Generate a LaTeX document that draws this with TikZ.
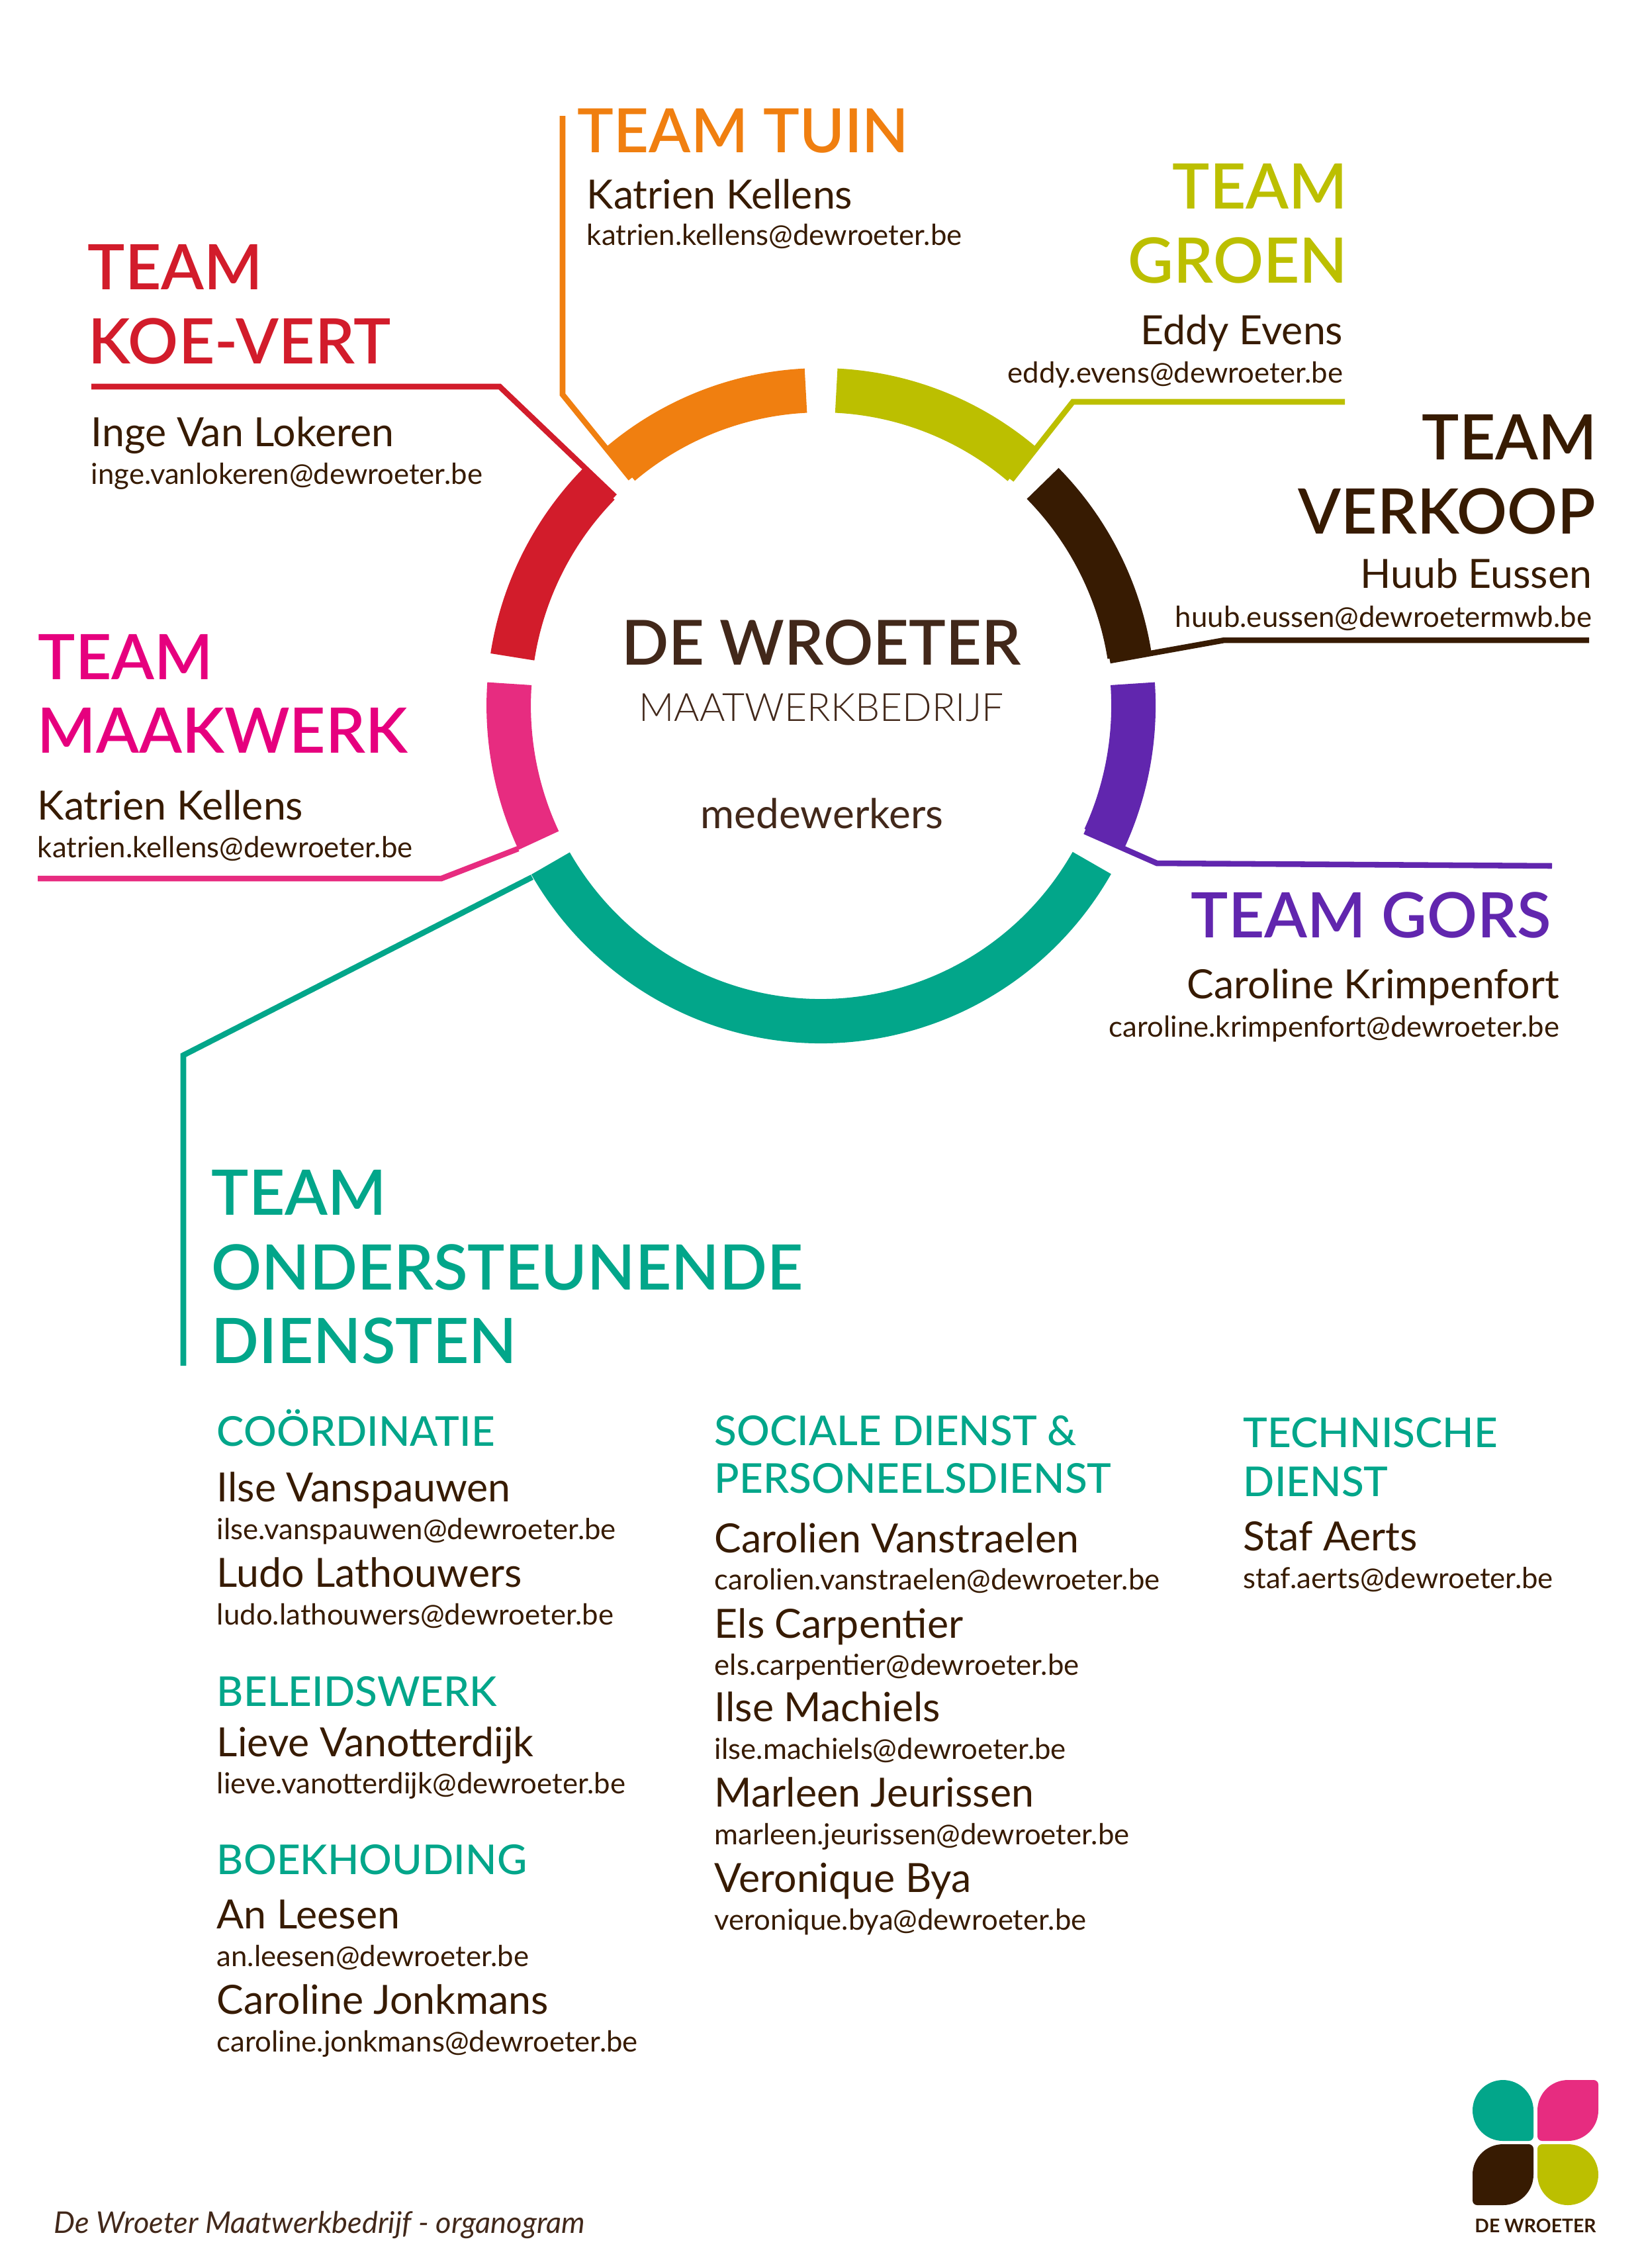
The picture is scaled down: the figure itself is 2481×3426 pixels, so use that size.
\documentclass[tikz,border=0pt]{standalone}
\usepackage{fontspec}
\setmainfont{Lato}
\newfontfamily\medfont{Lato Medium}
\newfontfamily\semifont{Lato Semibold}
\newfontfamily\lightfont{Lato Light}
\usetikzlibrary{positioning,calc}
\definecolor{tuinc}{HTML}{F07F10}
\definecolor{groenc}{HTML}{BCBF00}
\definecolor{brownc}{HTML}{371B02}
\definecolor{gorsc}{HTML}{6126AE}
\definecolor{tealc}{HTML}{02A68A}
\definecolor{pinkc}{HTML}{E72C80}
\definecolor{maakc}{HTML}{E6007E}
\definecolor{redc}{HTML}{D21C2B}
\definecolor{midc}{HTML}{42281A}
\tikzset{
	teamhead/.style={inner sep=0pt, font=\semifont\fontsize{22.7pt}{23pt}\selectfont},
	person/.style={inner sep=0pt, text=brownc, font=\fontsize{14.6pt}{15pt}\selectfont},
	mail/.style={inner sep=0pt, text=brownc, font=\fontsize{10.5pt}{11pt}\selectfont},
	subhead/.style={inner sep=0pt, text=tealc, font=\medfont\fontsize{14.9pt}{15pt}\selectfont},
	ringpart/.style={line width=16.08pt},
	teamline/.style={line width=2.05pt, line join=miter}
}
\newcommand{\petal}[7]{\fill[#3] (#1+#4,#2) -- (#1+92-#5,#2) arc[start angle=-90, end angle=0, radius=#5]
	-- (#1+92,#2+92-#6) arc[start angle=0, end angle=90, radius=#6]
	-- (#1+#7,#2+92) arc[start angle=90, end angle=180, radius=#7]
	-- (#1,#2+#4) arc[start angle=180, end angle=270, radius=#4] -- cycle;}

\begin{document}
\begin{tikzpicture}[x=0.24pt, y=-0.24pt]
	\useasboundingbox (0,0) rectangle (2481,3426);
	\coordinate (ctr) at (1240.6,1066);

	% ring
	\foreach \from/\to/\col in {-92.8/-129.9/tuinc, -87.2/-50/groenc, -44.8/-9.2/brownc, -4/24.8/gorsc,
		29.9/150/tealc, 154.7/184/pinkc, 188.9/224.6/redc}{
		\draw[ringpart, \col] ($(ctr)+(\from:472 and 476.5)$) arc[start angle=\from, end angle=\to, x radius=472, y radius=476.5];
	}

	% centre
	\node[inner sep=0pt, anchor=base, text=midc, font=\semifont\fontsize{22.5pt}{23pt}\selectfont] (wroeter) at (1241,1004) {DE WROETER};
	\node[inner sep=0pt, anchor=base, text=midc, font=\lightfont\fontsize{14.1pt}{15pt}\selectfont] (maatwerk) at (1241,1089) {MAATWERKBEDRIJF};
	\node[inner sep=0pt, anchor=base, text=midc, font=\fontsize{14.9pt}{15pt}\selectfont] (medew) at (1242,1251) {medewerkers};

	% team tuin
	\node[teamhead, tuinc, anchor=base west, font=\semifont\fontsize{22.1pt}{23pt}\selectfont] (tuin) at (872,230) {TEAM TUIN};
	\node[person, anchor=base west] (tuinp) at (886,315) {Katrien Kellens};
	\node[mail, anchor=base west] (tuinm) at (886,370) {katrien.kellens@dewroeter.be};
	\coordinate (tuintop) at (850,175);
	\coordinate (tuinbend) at (850,596);
	\coordinate (tuinring) at (953,723);
	\draw[teamline, tuinc] (tuintop) -- (tuinbend) -- (tuinring);

	% team groen
	\node[teamhead, groenc, anchor=base east] (groen1) at (2037,315) {TEAM};
	\node[teamhead, groenc, anchor=base east] (groen2) at (2037,427) {GROEN};
	\node[person, anchor=base east] (groenp) at (2030,520) {Eddy Evens};
	\node[mail, anchor=base east] (groenm) at (2030,578) {eddy.evens@dewroeter.be};
	\coordinate (groenend) at (2032,607);
	\coordinate (groenbend) at (1621,607);
	\coordinate (groenring) at (1528,725);
	\draw[teamline, groenc] (groenend) -- (groenbend) -- (groenring);

	% team verkoop
	\node[teamhead, brownc, anchor=base east] (verkoop1) at (2414,694) {TEAM};
	\node[teamhead, brownc, anchor=base east] (verkoop2) at (2412,806) {VERKOOP};
	\node[person, anchor=base east] (verkoopp) at (2406,888) {Huub Eussen};
	\node[mail, anchor=base east] (verkoopm) at (2406,947) {huub.eussen@dewroetermwb.be};
	\coordinate (verkoopend) at (2401,967);
	\coordinate (verkoopbend) at (1850,967);
	\coordinate (verkoopring) at (1677,998);
	\draw[teamline, brownc] (verkoopend) -- (verkoopbend) -- (verkoopring);

	% team gors
	\node[teamhead, gorsc, anchor=base east] (gors) at (2345,1416) {TEAM GORS};
	\node[person, anchor=base east] (gorsp) at (2357,1508) {Caroline Krimpenfort};
	\node[mail, anchor=base east] (gorsm) at (2357,1566) {caroline.krimpenfort@dewroeter.be};
	\coordinate (gorsend) at (2345,1308);
	\coordinate (gorsbend) at (1748,1304);
	\coordinate (gorsring) at (1639,1256);
	\draw[teamline, gorsc] (gorsend) -- (gorsbend) -- (gorsring);

	% team koe-vert
	\node[teamhead, redc, anchor=base west] (koe1) at (132,437) {TEAM};
	\node[teamhead, redc, anchor=base west] (koe2) at (133,549) {KOE-VERT};
	\node[person, anchor=base west] (koep) at (137,674) {Inge Van Lokeren};
	\node[mail, anchor=base west] (koem) at (137,731) {inge.vanlokeren@dewroeter.be};
	\coordinate (koeend) at (138,584);
	\coordinate (koebend) at (755,584);
	\coordinate (koering) at (929,750);
	\draw[teamline, redc] (koeend) -- (koebend) -- (koering);

	% team maakwerk
	\node[teamhead, maakc, anchor=base west] (maak1) at (57,1026) {TEAM};
	\node[teamhead, maakc, anchor=base west] (maak2) at (56,1137) {MAAKWERK};
	\node[person, anchor=base west] (maakp) at (56,1238) {Katrien Kellens};
	\node[mail, anchor=base west] (maakm) at (56,1295) {katrien.kellens@dewroeter.be};
	\coordinate (maakend) at (57,1327);
	\coordinate (maakbend) at (667,1327);
	\coordinate (maakring) at (783,1282);
	\draw[teamline, pinkc] (maakend) -- (maakbend) -- (maakring);

	% team ondersteunende diensten
	\node[teamhead, tealc, anchor=base west] (ond1) at (319,1835) {TEAM};
	\node[teamhead, tealc, anchor=base west] (ond2) at (319,1948) {ONDERSTEUNENDE};
	\node[teamhead, tealc, anchor=base west] (ond3) at (319,2059) {DIENSTEN};
	\coordinate (ondend) at (277,2063);
	\coordinate (ondbend) at (277,1594);
	\coordinate (ondring) at (804,1325);
	\draw[teamline, tealc] (ondend) -- (ondbend) -- (ondring);

	% first column
	\node[subhead, anchor=base west] (coord) at (327,2184) {COÖRDINATIE};
	\node[person, anchor=base west] (coord1) at (327,2268) {Ilse Vanspauwen};
	\node[mail, anchor=base west] (coord1m) at (327,2325) {ilse.vanspauwen@dewroeter.be};
	\node[person, anchor=base west] (coord2) at (327,2397) {Ludo Lathouwers};
	\node[mail, anchor=base west] (coord2m) at (327,2454) {ludo.lathouwers@dewroeter.be};
	\node[subhead, anchor=base west] (beleid) at (327,2577) {BELEIDSWERK};
	\node[person, anchor=base west] (beleid1) at (327,2653) {Lieve Vanotterdijk};
	\node[mail, anchor=base west] (beleid1m) at (327,2709) {lieve.vanotterdijk@dewroeter.be};
	\node[subhead, anchor=base west] (boek) at (327,2831) {BOEKHOUDING};
	\node[person, anchor=base west] (boek1) at (327,2913) {An Leesen};
	\node[mail, anchor=base west] (boek1m) at (327,2970) {an.leesen@dewroeter.be};
	\node[person, anchor=base west] (boek2) at (327,3042) {Caroline Jonkmans};
	\node[mail, anchor=base west] (boek2m) at (327,3099) {caroline.jonkmans@dewroeter.be};

	% second column
	\node[subhead, anchor=base west] (soc1) at (1079,2183) {SOCIALE DIENST \&};
	\node[subhead, anchor=base west] (soc2) at (1079,2255) {PERSONEELSDIENST};
	\node[person, anchor=base west] (soc3) at (1079,2345) {Carolien Vanstraelen};
	\node[mail, anchor=base west] (soc3m) at (1079,2401) {carolien.vanstraelen@dewroeter.be};
	\node[person, anchor=base west] (soc4) at (1079,2474) {Els Carpentier};
	\node[mail, anchor=base west] (soc4m) at (1079,2530) {els.carpentier@dewroeter.be};
	\node[person, anchor=base west] (soc5) at (1079,2600) {Ilse Machiels};
	\node[mail, anchor=base west] (soc5m) at (1079,2657) {ilse.machiels@dewroeter.be};
	\node[person, anchor=base west] (soc6) at (1079,2729) {Marleen Jeurissen};
	\node[mail, anchor=base west] (soc6m) at (1079,2786) {marleen.jeurissen@dewroeter.be};
	\node[person, anchor=base west] (soc7) at (1079,2858) {Veronique Bya};
	\node[mail, anchor=base west] (soc7m) at (1079,2915) {veronique.bya@dewroeter.be};

	% third column
	\node[subhead, anchor=base west] (tech1) at (1878,2186) {TECHNISCHE};
	\node[subhead, anchor=base west] (tech2) at (1878,2260) {DIENST};
	\node[person, anchor=base west] (tech3) at (1878,2342) {Staf Aerts};
	\node[mail, anchor=base west] (tech3m) at (1878,2399) {staf.aerts@dewroeter.be};

	% logo and footer
	\petal{2225}{3142}{tealc}{46}{46}{7}{46}
	\petal{2323}{3142}{pinkc}{46}{7}{46}{7}
	\petal{2225}{3239}{brownc}{46}{7}{46}{7}
	\petal{2323}{3239}{groenc}{7}{46}{46}{46}
	\node[inner sep=0pt, anchor=base, text=brownc, font=\bfseries\fontsize{6.8pt}{7pt}\selectfont] (logotext) at (2320,3372) {DE WROETER};
	\node[inner sep=0pt, anchor=base west, text=midc, font=\itshape\fontsize{10.85pt}{11pt}\selectfont] (footer) at (81,3373) {De Wroeter Maatwerkbedrijf - organogram};
\end{tikzpicture}
\end{document}
